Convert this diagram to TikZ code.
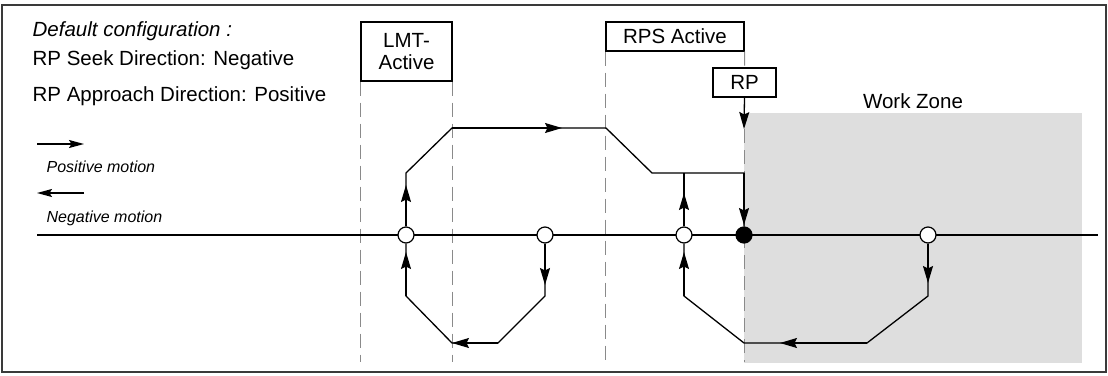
\documentclass[tikz,border=0pt]{standalone}
\usepackage{fontspec}
\setmainfont{Liberation Sans}
\usetikzlibrary{arrows.meta}
\definecolor{zone}{HTML}{DEDEDE}
\definecolor{guidegray}{HTML}{8A8A8A}
\definecolor{frame}{HTML}{3A3A3A}
\begin{document}
\begin{tikzpicture}[x=1pt,y=-1pt,line width=1.3pt,line join=miter,
  arr/.style={-{Stealth[length=17pt,width=10pt,inset=2.5pt]}},
  larr/.style={-{Stealth[length=15pt,width=8pt,inset=2.5pt]}},
  guide/.style={draw=guidegray,line width=1pt,dash pattern=on 14pt off 7pt},
  txt/.style={font=\fontsize{20.5}{24}\selectfont,anchor=base west,inner sep=0pt},
  small/.style={font=\fontsize{16}{19}\selectfont\itshape,anchor=base west,inner sep=0pt},
  lbox/.style={draw,line width=1.1pt,fill=white,inner sep=0pt,align=center,
    font=\fontsize{20.5}{22.5}\selectfont},
  pt/.style={circle,draw,fill=white,minimum size=16pt,inner sep=0pt,line width=1.2pt},
  ptfull/.style={pt,fill=black}]
\useasboundingbox (0,0) rectangle (1108,375);
% work zone
\fill[zone] (744,113) rectangle (1082,363);
\node[txt,anchor=base] (wz) at (913,108) {Work Zone};
% frame
\draw[frame,line width=1.5pt] (2,5) rectangle (1106,372);
% texts
\node[txt] (t1) at (32,36) {\itshape Default configuration :};
\node[txt] (t2) at (32,65) {RP Seek Direction: Negative};
\node[txt] (t3) at (32,101) {RP Approach Direction: Positive};
\node[small] (t4) at (46,172) {Positive motion};
\node[small] (t5) at (46,222) {Negative motion};
\coordinate (pa) at (37,144); \coordinate (pb) at (84,144);
\coordinate (na) at (84,193); \coordinate (nb) at (37,193);
\draw[larr] (pa) -- (pb);
\draw[larr] (na) -- (nb);
% boxes
\node[lbox,minimum width=91pt,minimum height=59pt] (lmt) at (406.5,51.5) {LMT-\\Active};
\node[lbox,minimum width=138pt,minimum height=29pt] (rps) at (675,36.5) {RPS Active};
\node[lbox,minimum width=63pt,minimum height=29pt] (rpbox) at (744.5,82.5) {RP};
% guides
\draw[guide] (lmt.south west) -- (lmt.south west |- 0,362);
\draw[guide] (lmt.south east) -- (lmt.south east |- 0,362);
\draw[guide] (rps.south west) -- (rps.south west |- 0,362);
\draw[guide] (rps.south east) -- (rpbox.north);
\coordinate (rpt) at (744,129);
\draw[guide] (rpt) -- (744,362);
\draw[arr] (rpbox.south) -- (rpt);
% axis
\coordinate (axL) at (37,235); \coordinate (axR) at (1098,235);
\draw (axL) -- (axR);
% corners of the routes
\coordinate (u2) at (406,173); \coordinate (u3) at (452,128);
\coordinate (u5) at (606,128); \coordinate (u6) at (652,173);
\coordinate (u7) at (744,173); \coordinate (u9) at (684,173);
\coordinate (l2) at (545,296); \coordinate (l3) at (498,343);
\coordinate (l4) at (452,343); \coordinate (l5) at (406,296);
\coordinate (r2) at (928,296); \coordinate (r3) at (867,343);
\coordinate (r5) at (744,343); \coordinate (r6) at (684,296);
% circles
\node[pt] (c1) at (406,235) {};
\node[pt] (c2) at (545,235) {};
\node[pt] (c3) at (684,235) {};
\node[ptfull] (rp) at (744,235) {};
\node[pt] (c5) at (928,235) {};
% routes
\draw (c1.north) -- (u2) -- (u3) -- (u5) -- (u6) -- (u7) -- (rp.north);
\draw (c3.north) -- (u9);
\draw (c2.south) -- (l2) -- (l3) -- (l4) -- (l5) -- (c1.south);
\draw (c5.south) -- (r2) -- (r3) -- (r5) -- (r6) -- (c3.south);
% arrowheads along the routes
\draw[arr] (c1.north) -- (406,185);
\draw[arr] (u3) -- (562,128);
\draw[arr] (u7) -- (744,225);
\draw[arr] (c3.north) -- (684,193);
\draw[arr] (c2.south) -- (545,285);
\draw[arr] (l3) -- (l4);
\draw[arr] (l5) -- (406,252);
\draw[arr] (c5.south) -- (928,283);
\draw[arr] (r3) -- (780,343);
\draw[arr] (r6) -- (684,252);
\end{tikzpicture}
\end{document}
